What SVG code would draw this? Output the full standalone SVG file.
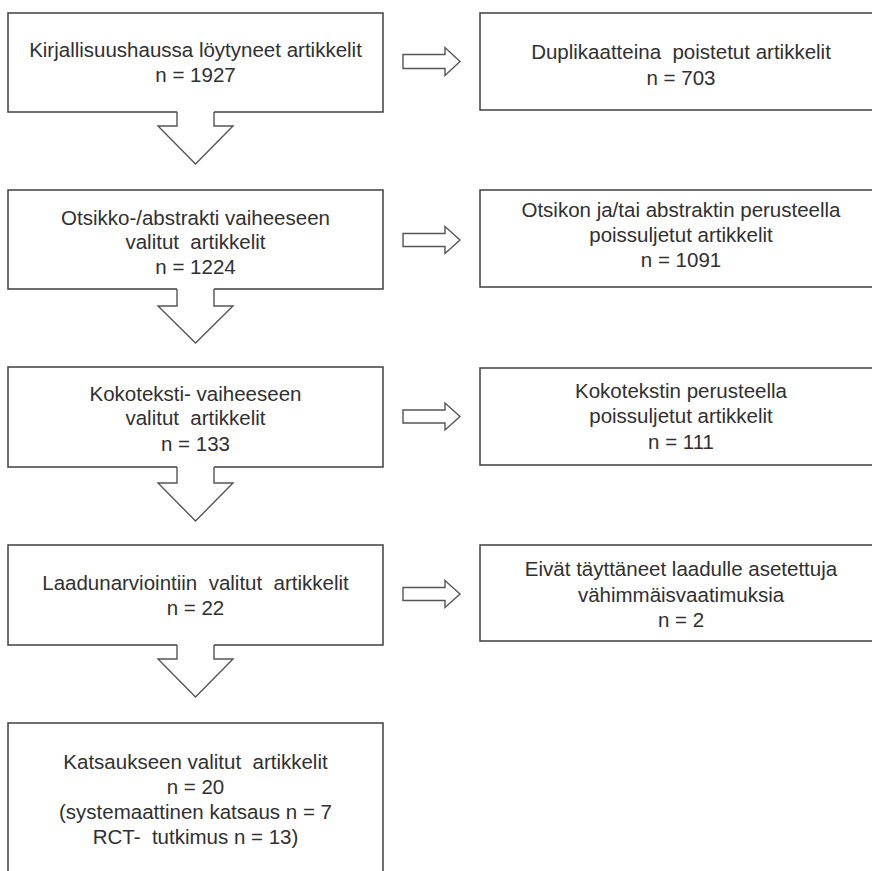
<svg xmlns="http://www.w3.org/2000/svg" width="872" height="871" viewBox="0 0 872 871">
<style>
.box{fill:#fff;stroke:#3f3f3f;stroke-width:1.5}
.t{font-family:"Liberation Sans",Arial,sans-serif;font-size:20.5px;fill:#303030;text-anchor:middle;white-space:pre}
.af{fill:#fff;stroke:none}
.as{fill:none;stroke:#555;stroke-width:1.4;stroke-linejoin:miter}
.ar{fill:#fff;stroke:#555;stroke-width:1.4}
</style>
<rect width="872" height="871" fill="#fff"/>
<g id="n1"><rect class="box" x="8" y="13" width="375" height="99"/>
<text class="t" x="195.5" y="57">Kirjallisuushaussa löytyneet artikkelit</text>
<text class="t" x="195.5" y="81.5">n = 1927</text></g>
<g id="n2"><rect class="box" x="8" y="190" width="375" height="99"/>
<text class="t" x="195.5" y="225">Otsikko-/abstrakti vaiheeseen</text>
<text class="t" x="195.5" y="249" xml:space="preserve">valitut  artikkelit</text>
<text class="t" x="195.5" y="273.5">n = 1224</text></g>
<g id="n3"><rect class="box" x="8" y="367" width="375" height="100"/>
<text class="t" x="195.5" y="400.5">Kokoteksti- vaiheeseen</text>
<text class="t" x="195.5" y="425" xml:space="preserve">valitut  artikkelit</text>
<text class="t" x="195.5" y="450.5">n = 133</text></g>
<g id="n4"><rect class="box" x="8" y="545" width="375" height="100"/>
<text class="t" x="195.5" y="590" xml:space="preserve">Laadunarviointiin  valitut  artikkelit</text>
<text class="t" x="195.5" y="615">n = 22</text></g>
<g id="n5"><rect class="box" x="8" y="723" width="375" height="160"/>
<text class="t" x="195.5" y="769" xml:space="preserve">Katsaukseen valitut  artikkelit</text>
<text class="t" x="195.5" y="794">n = 20</text>
<text class="t" x="195.5" y="819">(systemaattinen katsaus n = 7</text>
<text class="t" x="195.5" y="844" xml:space="preserve">RCT-  tutkimus n = 13)</text></g>
<g id="r1"><rect class="box" x="480" y="13" width="402" height="97"/>
<text class="t" x="681" y="59" xml:space="preserve">Duplikaatteina  poistetut artikkelit</text>
<text class="t" x="681" y="84.5">n = 703</text></g>
<g id="r2"><rect class="box" x="480" y="190" width="402" height="97"/>
<text class="t" x="681" y="216.5">Otsikon ja/tai abstraktin perusteella</text>
<text class="t" x="681" y="241.5">poissuljetut artikkelit</text>
<text class="t" x="681" y="267">n = 1091</text></g>
<g id="r3"><rect class="box" x="480" y="368" width="402" height="97"/>
<text class="t" x="681" y="398">Kokotekstin perusteella</text>
<text class="t" x="681" y="423">poissuljetut artikkelit</text>
<text class="t" x="681" y="448.5">n = 111</text></g>
<g id="r4"><rect class="box" x="480" y="545" width="402" height="96"/>
<text class="t" x="681" y="576">Eivät täyttäneet laadulle asetettuja</text>
<text class="t" x="681" y="601.5">vähimmäisvaatimuksia</text>
<text class="t" x="681" y="626.5">n = 2</text></g>
<g id="connectors">
<polygon class="af" points="177,109 177,126 158,126 195.5,164 233,126 214,126 214,109"/>
<polyline class="as" points="177,112 177,126 158,126 195.5,164 233,126 214,126 214,112"/>
<polygon class="af" points="177,286 177,306 158,306 195.5,343 233,306 214,306 214,286"/>
<polyline class="as" points="177,289 177,306 158,306 195.5,343 233,306 214,306 214,289"/>
<polygon class="af" points="177,464 177,483 158,483 195.5,521 233,483 214,483 214,464"/>
<polyline class="as" points="177,467 177,483 158,483 195.5,521 233,483 214,483 214,467"/>
<polygon class="af" points="177,642 177,659 158,659 195.5,697 233,659 214,659 214,642"/>
<polyline class="as" points="177,645 177,659 158,659 195.5,697 233,659 214,659 214,645"/>
<polygon class="ar" points="403,54.5 445,54.5 445,47.5 460,61.5 445,75.5 445,68.5 403,68.5"/>
<polygon class="ar" points="403,233.5 445,233.5 445,226.5 460,240 445,253.5 445,246.5 403,246.5"/>
<polygon class="ar" points="403,410 445,410 445,403 460,416.5 445,430 445,423 403,423"/>
<polygon class="ar" points="403,587.5 445,587.5 445,580.5 460,594 445,607.5 445,600.5 403,600.5"/>
</g>
</svg>
